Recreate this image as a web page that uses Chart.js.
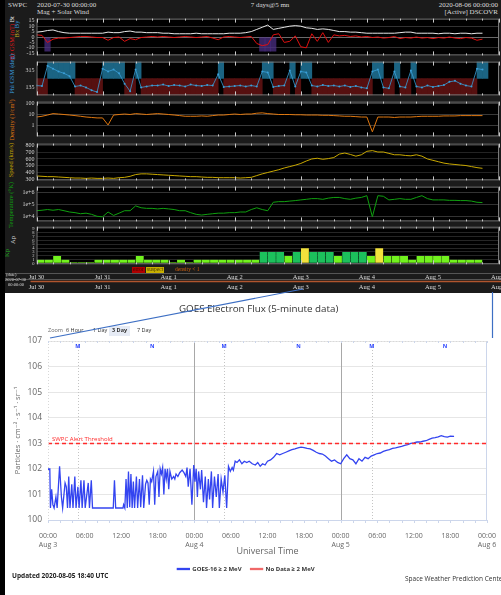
<!DOCTYPE html>
<html>
<head>
<meta charset="utf-8">
<title>SWPC solar wind and GOES electron flux</title>
<script src="https://cdn.jsdelivr.net/npm/chart.js@4.4.1/dist/chart.umd.min.js"></script>
<style>
  html, body { margin: 0; padding: 0; background: #fff; }
  body { position: relative; width: 501px; height: 595px; overflow: hidden; font-family: 'Open Sans', sans-serif; }
  .abs { position: absolute; white-space: nowrap; line-height: 1; }
  #strip { left: 0; top: 0; width: 5px; height: 595px; background: #000; }
  #swpc { position: absolute; left: 5px; top: 0; width: 496px; height: 293px; background: #1b1b1b; color: #dcdcdc;
          font-family: 'Liberation Serif', 'DejaVu Serif', serif; overflow: hidden; }
  #swpc canvas { position: absolute; left: 0; }
  .vt { position: absolute; white-space: nowrap; line-height: 1; font-size: 6.5px; transform: translate(-50%, -50%) rotate(-90deg); }
  #goes { position: absolute; left: 5px; top: 295px; }
  .zb { position: absolute; top: 328px; font-size: 5.5px; color: #333; line-height: 1; white-space: nowrap; }
</style>
</head>
<body>
<div id="strip" class="abs"></div>

<div id="swpc">
  <div class="abs" style="left:3px;top:2px;font-size:7px">SWPC</div>
  <div class="abs" style="left:32px;top:2px;font-size:7px">2020-07-30 00:00:00</div>
  <div class="abs" style="left:32px;top:9px;font-size:7px">Mag + Solar Wind</div>
  <div class="abs" style="left:265px;top:2px;font-size:7px;transform:translateX(-50%)">7 days@5 mn</div>
  <div class="abs" style="right:3px;top:2px;font-size:7px">2020-08-06 00:00:00</div>
  <div class="abs" style="right:3px;top:9px;font-size:7px">[Active] DSCOVR</div>

  <div class="vt" style="left:7px;top:38px"><span style="color:#e01818">Bz GSM (nT)</span> <span style="color:#eee">Bt</span></div>
  <div class="vt" style="left:12px;top:29px"><span style="color:#c8b020">Bx</span> <span style="color:#3aa0e0">By</span></div>
  <div class="vt" style="left:7px;top:74px;color:#3aa0e0">Phi GSM (deg)</div>
  <div class="vt" style="left:7px;top:120px;color:#e07810">Density (1/cm³)</div>
  <div class="vt" style="left:6px;top:160px;color:#c8a800">Speed (km/s)</div>
  <div class="vt" style="left:6px;top:205px;color:#10a010">Temperature (°K)</div>
  <div class="vt" style="left:2px;top:253px;color:#20b020">Kp</div>
  <div class="vt" style="left:8px;top:240px;color:#ddd">Ap</div>

  <canvas id="p1" width="496" height="48" style="top:13px"></canvas>
  <canvas id="p2" width="496" height="45" style="top:56px"></canvas>
  <canvas id="p3" width="496" height="46" style="top:96px"></canvas>
  <canvas id="p4" width="496" height="48" style="top:138px"></canvas>
  <canvas id="p5" width="496" height="46" style="top:181px"></canvas>
  <canvas id="p6" width="496" height="47" style="top:222px"></canvas>
  <canvas id="pAxis" width="496" height="20" style="top:272px"></canvas>

  <div class="abs" style="left:127px;top:267px;font-size:5.5px;background:#b00000;color:#400000;padding:0 1px">error</div>
  <div class="abs" style="left:141px;top:267px;font-size:5.5px;background:#c8b000;color:#4a3a00;padding:0 1px">suspect</div>
  <div class="abs" style="left:170px;top:267px;font-size:5.5px;color:#d06010">density &lt; 1</div>
  <div class="abs" style="left:1px;top:273px;font-size:4.5px">(date)</div>
  <div class="abs" style="left:0px;top:278px;font-size:4.5px">2020-07-30</div>
  <div class="abs" style="left:3px;top:283px;font-size:4.5px">00:00:00</div>
</div>

<canvas id="goes" width="496" height="300"></canvas>

<div class="abs" style="left:179px;top:304px;font-size:9.8px;color:#333">GOES Electron Flux (5-minute data)</div>
<div class="zb" style="left:48px;color:#666">Zoom</div>
<div class="zb" style="left:66px">6 Hour</div>
<div class="zb" style="left:93px">1 Day</div>
<div class="zb" style="left:109px;top:326px;background:#e6ebf5;padding:2px 3px;font-weight:bold">3 Day</div>
<div class="zb" style="left:137px">7 Day</div>
<div class="abs" style="left:12px;top:573px;font-size:6.5px;font-weight:bold;color:#222">Updated 2020-08-05 18:40 UTC</div>
<div class="abs" style="left:405px;top:576px;font-size:6.5px;color:#333">Space Weather Prediction Center</div>

<svg class="abs" width="501" height="595" style="left:0;top:0;pointer-events:none">
  <line x1="303" y1="289" x2="50" y2="338" stroke="#3d6fc4" stroke-width="1.2"/>
  <line x1="492.5" y1="292" x2="492.5" y2="338" stroke="#3d6fc4" stroke-width="1.2"/>
</svg>

<script>
// ---- solar wind panel data, one value every 2 hours from Jul 30 00:00 ----
const STEP = 2;
const bt = [
  4.5, 5, 6, 6.5, 5, 4, 3.5, 3.5, 3.5, 3.5,
  3.5, 3.5, 3.5, 4.5, 4, 4, 5, 5.5, 4.5, 4.5,
  4, 4, 4, 3.5, 3.5, 3, 3, 3, 3, 3.5,
  3, 3, 3, 3, 3, 3.5, 3.5, 3.5, 4, 5,
  7, 9, 11, 7, 8, 9, 10, 10.5, 10, 8.5,
  8, 7, 7.5, 7, 6, 5, 5, 4.5, 4.5, 4,
  3.5, 3.5, 3.5, 3.5, 3.5, 3.5, 4, 4.5, 4.5, 3.5,
  3.5, 3.5, 3.5, 3, 3.5, 3.5, 3, 3.5, 3.5, 3,
  3.5, 3.5
];
const bz = [
  2, 1.5, -5, -2, -1, -1, -0.5, 0, 0.5, 0.5,
  0, -0.5, -0.5, -3, -0.5, 0, -4, -1.5, -2.5, -0.5,
  0, 0.5, 0, 0.5, 0, -0.5, 0, 0.5, 0, -0.5,
  0, 0.5, -1, -2.5, 0, 0.5, 0, -0.5, 0, 0.5,
  -6, -8, -7, 2, 3, -5, -4, 1, -9, -10,
  3, -4, 4, -5, 2, 1, 1.5, 0.5, 1, 0,
  0.5, -0.5, 0, -1, -0.5, 0.5, -1.5, -0.5, -1, 0,
  -1, -0.5, -1.5, -0.5, -1, 0, -1, -1.5, -0.5, -1,
  -3, -2
];
const bzShadeHours = [4, 82, 84, 86];
const phi = [
  150, 145, 360, 330, 300, 280, 250, 140, 150, 130,
  100, 80, 330, 300, 320, 280, 170, 90, 320, 130,
  140, 150, 150, 160, 145, 155, 150, 140, 160, 150,
  145, 155, 150, 270, 135, 140, 145, 150, 140, 150,
  140, 300, 290, 135, 145, 150, 310, 140, 300, 290,
  150, 140, 155, 145, 150, 140, 150, 135, 145, 130,
  120, 300, 320, 130, 120, 300, 140, 130, 310, 140,
  130, 150, 135, 145, 155, 190, 200, 170, 150, 140,
  330, 320
];
// 1 = away sector (blue band), 0 = toward sector (red band)
const sector = [
  0, 0, 1, 1, 1, 1, 1, 0, 0, 0,
  0, 0, 1, 1, 1, 1, 0, 0, 1, 0,
  0, 0, 0, 0, 0, 0, 0, 0, 0, 0,
  0, 0, 0, 1, 0, 0, 0, 0, 0, 0,
  0, 1, 1, 0, 0, 0, 1, 0, 1, 1,
  0, 0, 0, 0, 0, 0, 0, 0, 0, 0,
  0, 1, 1, 0, 0, 1, 0, 0, 1, 0,
  0, 0, 0, 0, 0, 0, 0, 0, 0, 0,
  1, 1
];
const density = [
  6, 7, 9, 12, 11, 10, 9, 8, 7, 6,
  5.5, 5, 5, 1.2, 9, 10, 11, 10, 12, 11,
  10, 11, 12, 11, 10, 9, 8, 7, 7, 7,
  7.5, 7, 8, 9, 9, 10, 11, 10, 11, 11,
  13, 14, 12, 11, 10, 10, 10, 9.5, 9.5, 9,
  9, 9, 8.5, 8.5, 8, 7.5, 7, 7, 6.5, 6,
  6, 0.3, 6, 6, 6, 5.5, 6, 6, 6, 6.5,
  7, 7, 7, 7, 7.5, 7.5, 7.5, 8, 8, 8,
  8, 8
];
const speed = [
  355, 350, 345, 345, 340, 335, 330, 325, 325, 320,
  325, 320, 320, 325, 320, 330, 335, 350, 375, 385,
  385, 380, 375, 370, 365, 360, 355, 350, 345, 345,
  340, 335, 335, 330, 330, 330, 330, 325, 330, 335,
  360, 385, 405, 425, 445, 470, 490, 510, 535, 570,
  600, 610, 595, 605, 620, 670, 685, 665, 640, 660,
  710, 720, 700, 700, 680, 660, 660, 650, 645, 660,
  640, 600, 580, 560, 540, 528, 520, 512, 505, 490,
  475, 465
];
const temperature = [
  3.2e4, 3.5e4, 4e4, 3.5e4, 4e4, 3.2e4, 2.5e4, 2.2e4, 1.8e4, 2e4,
  1.6e4, 1.1e4, 1e4, 2.5e4, 1.3e4, 2e4, 3.2e4, 3.2e4, 8e4, 5.6e4,
  5e4, 5e4, 4.5e4, 5e4, 4.5e4, 4e4, 3.2e4, 3.2e4, 2.2e4, 1.6e4,
  1.4e4, 1.6e4, 1.8e4, 2e4, 2e4, 2.2e4, 2.2e4, 2.5e4, 2.5e4, 4e4,
  5.6e4, 4e4, 3.2e4, 1.6e5, 1.8e5, 1.8e5, 2e5, 2.2e5, 2.5e5, 2.8e5,
  3.2e5, 3.2e5, 2.8e5, 3.5e5, 4e5, 4e5, 3.2e5, 2.8e5, 3.5e5, 4e5,
  5.6e5, 1e4, 5.6e5, 5e5, 2.5e5, 2.8e5, 3.2e5, 2.8e5, 2.8e5, 4e5,
  5.6e5, 3.2e5, 2.5e5, 2.5e5, 2.5e5, 2.3e5, 2.3e5, 2.2e5, 2.2e5, 2e5,
  1.6e5, 1.5e5
];
// Kp, one bar per 3 hours
const kp = [
  1, 1, 2, 1, 0.33, 0.33, 0.33, 1, 1, 1,
  1, 1, 2, 1, 1, 1, 0.33, 1, 0.33, 1,
  1, 1, 1, 1, 1, 1, 1, 3, 3, 3,
  2, 3, 4, 3, 3, 3, 2, 3, 3, 3,
  2, 4, 2, 2, 2, 1, 2, 2, 2, 2,
  1, 1, 1, 1
];
const dayTickHours = [0, 24, 48, 72, 96, 120, 144, 168];
const dayNames = ['Jul 30', 'Jul 31', 'Aug 1', 'Aug 2', 'Aug 3', 'Aug 4', 'Aug 5', 'Aug 6'];

// ---- GOES-16 >= 2 MeV electron flux (log10 particles), hours from Aug 3 00:00 ----
const goesHours = [
  0, 0.1, 0.3, 0.4, 0.6, 0.8, 1.0, 1.3, 1.5, 1.9,
  2.2, 2.4, 2.8, 3.0, 3.2, 3.4, 3.6, 3.9, 4.1, 4.4,
  4.6, 4.9, 5.1, 5.4, 5.6, 5.9, 6.1, 6.6, 6.8, 7.1,
  7.3,
  10.7, 10.9, 11.1, 12.3, 12.4, 12.6, 12.8, 13.0, 13.2, 13.4,
  13.6, 13.8, 14.0, 14.2, 14.5, 14.7, 15.0, 15.2, 15.5, 15.7,
  16.0, 16.2, 16.4, 16.6, 16.8, 17.0, 17.3, 17.5, 17.7, 18.0,
  18.2, 18.4, 18.6, 18.8, 19.0, 19.2, 19.4, 19.6, 19.8, 20.0,
  20.3, 20.6, 20.8, 21.0, 21.3, 21.6, 22.0, 22.3, 22.6, 22.8,
  23.0, 23.3, 23.6, 23.9, 24.1, 24.3, 24.5, 24.7, 25.0, 25.2,
  25.5, 25.8, 26.0, 26.3, 26.5, 26.8, 27.0, 27.3, 27.6, 27.9,
  28.1, 28.4, 28.7, 29.0, 29.3, 29.6, 29.9, 30.2, 30.4, 30.7,
  31.0, 31.4, 31.8, 32.2, 32.6, 33.0,
  33.5, 34.0, 34.4, 34.8, 35.2, 35.6, 36.0, 36.5, 37.0, 37.5,
  38.0, 38.5, 39.0, 39.5, 40.0, 40.5, 41.0, 41.5, 42.0, 42.5,
  43.0, 43.5, 44.0, 44.5, 45.0, 45.5, 46.0, 46.5, 47.0, 47.5,
  48.0, 48.5, 49.0, 49.5, 50.0, 50.5, 51.0, 51.5, 52.0, 52.5,
  53.0, 53.5, 54.0, 54.5, 55.0, 55.5, 56.0, 56.5, 57.0, 57.5,
  58.0, 58.5, 59.0, 59.5, 60.0, 60.5, 61.0, 61.5, 62.0, 62.5,
  63.0, 63.5, 64.0, 64.5, 65.0, 65.5, 66.0, 66.6
];
const goesFlux = [
  1.97, 2.0, 2.0, 0.47, 1.2, 0.6, 0.47, 0.9, 0.47, 2.1,
  0.9, 0.47, 1.45, 1.3, 0.47, 1.7, 0.47, 1.4, 0.47, 1.7,
  0.47, 1.3, 0.47, 1.55, 0.47, 1.55, 0.47, 1.45, 0.47, 1.55,
  0.47,
  0.47, 1.55, 0.47, 0.47, 0.6, 0.47, 1.6, 0.47, 1.9, 0.5,
  1.8, 0.47, 1.5, 0.47, 1.7, 0.47, 1.6, 0.5, 1.75, 0.47,
  1.4, 1.55, 1.45, 0.6, 1.6, 1.5, 1.9, 0.6, 1.7, 1.9,
  0.9, 2.0, 1.8, 2.05, 1.0, 2.0, 1.6, 2.0, 1.2, 1.9,
  1.6, 1.7, 1.6, 1.8, 1.7, 1.85, 1.95, 1.85, 1.7, 2.05,
  1.3, 2.0, 0.6, 2.15, 1.5, 2.0, 0.9, 1.9, 1.2, 1.95,
  0.7, 1.7, 0.47, 1.6, 0.8, 1.9, 0.47, 1.7, 0.9, 1.8,
  0.47, 1.6, 1.1, 1.75, 0.47, 2.1, 1.9, 2.05, 1.95, 2.3,
  2.25, 2.35, 2.2, 2.3, 2.25, 2.3,
  2.2, 2.15, 2.25, 2.1, 2.2, 2.15, 2.3, 2.35, 2.45, 2.6,
  2.55, 2.6, 2.65, 2.7, 2.75, 2.78, 2.82, 2.85, 2.83, 2.8,
  2.78, 2.72, 2.65, 2.6, 2.58, 2.5, 2.4, 2.3, 2.35, 2.25,
  2.2, 2.4, 2.55, 2.4, 2.35, 2.2, 2.4, 2.3, 2.45, 2.4,
  2.5, 2.55, 2.6, 2.62, 2.68, 2.72, 2.75, 2.8, 2.82, 2.85,
  2.88, 2.92, 2.95, 3.0, 3.02, 3.05, 3.05, 3.08, 3.1, 3.15,
  3.2, 3.22, 3.25, 3.3, 3.26, 3.24, 3.28, 3.27
];
const alertThreshold = 3;          // 10^3 particles
const goesTickHours = [0, 6, 12, 18, 24, 30, 36, 42, 48, 54, 60, 66, 72];
const goesDays = ['Aug 3', 'Aug 4', 'Aug 5', 'Aug 6'];
const dayBoundaries = [24, 48];
const localMidnight = [4.9, 28.9, 53.1];   // "M"
const localNoon = [17.1, 41.1, 65.1];      // "N"

const serif = "'Liberation Serif', 'DejaVu Serif', serif";
const sans = "'Open Sans', 'DejaVu Sans', sans-serif";
Chart.defaults.font.family = sans;

// ---- helpers ----
const pts = arr => arr.map((v, i) => ({ x: i * STEP, y: v }));
const kpColor = v => v >= 4 ? '#f2e23c' : (v >= 3 ? '#1cc05c' : '#72f21e');

// black plot area + frame + small time ticks, like the SWPC plot
const panelFrame = {
  id: 'panelFrame',
  beforeDraw(chart) {
    const { ctx, chartArea: a } = chart;
    ctx.save();
    ctx.fillStyle = '#000';
    ctx.fillRect(a.left, a.top, a.width, a.height);
    ctx.restore();
  },
  afterDraw(chart) {
    const { ctx, chartArea: a, scales: { x } } = chart;
    ctx.save();
    ctx.strokeStyle = '#7a7a7a';
    ctx.lineWidth = 1;
    ctx.strokeRect(a.left + 0.5, a.top + 0.5, a.width - 1, a.height - 1);
    ctx.strokeStyle = '#c8c8c8';
    for (let h = 0; h <= 168; h += 6) {
      const px = Math.round(x.getPixelForValue(h)) + 0.5;
      const len = h % 24 === 0 ? 4 : 2;
      ctx.beginPath();
      ctx.moveTo(px, a.top); ctx.lineTo(px, a.top + len);
      ctx.moveTo(px, a.bottom); ctx.lineTo(px, a.bottom - len);
      ctx.stroke();
    }
    ctx.restore();
  }
};

function yAxis(o) {
  return {
    type: o.type || 'linear',
    min: o.min, max: o.max,
    afterFit: s => { s.width = 31.5; },
    afterBuildTicks: s => { s.ticks = o.ticks.map(v => ({ value: v })); },
    ticks: {
      color: '#d4d4d4', font: { family: serif, size: o.size || 6 }, padding: 2, autoSkip: false,
      callback: o.fmt || (v => String(v))
    },
    grid: { color: o.grid || '#303030', drawTicks: false },
    border: { display: false }
  };
}

function panel(id, type, datasets, y) {
  return new Chart(document.getElementById(id), {
    type: type,
    data: { datasets: datasets },
    options: {
      responsive: false, animation: false, devicePixelRatio: 1,
      layout: { autoPadding: false, padding: { left: 0, right: 2, top: 4, bottom: 4 } },
      plugins: { legend: { display: false }, tooltip: { enabled: false } },
      elements: { point: { radius: 0 }, line: { borderWidth: 1, tension: 0 } },
      scales: {
        x: { type: 'linear', min: 0, max: 168, display: false, offset: false },
        y: yAxis(y)
      }
    },
    plugins: [panelFrame]
  });
}

// Bt / Bz
panel('p1', 'bar', [
  { type: 'line', data: pts(bz), borderColor: '#e01010', order: 1 },
  { type: 'line', data: pts(bt), borderColor: '#e8e8e8', order: 2 },
  { type: 'bar', data: bzShadeHours.map(h => ({ x: h, y: [-13, 0] })), backgroundColor: 'rgba(80,50,140,0.7)',
    barPercentage: 1, categoryPercentage: 1, grouped: false, order: 3 }
], { min: -17, max: 17, ticks: [15, 10, 5, 0, -5, -10, -15],
     grid: c => c.tick.value === 0 ? '#6a6a6a' : (Math.abs(c.tick.value) === 10 ? '#333' : 'transparent') });

// Phi with sector bands
panel('p2', 'bar', [
  { type: 'line', data: pts(phi), borderColor: '#3a9fd8', borderWidth: 0.8, pointRadius: 1,
    pointBackgroundColor: '#3a9fd8', pointBorderWidth: 0, order: 1 },
  { type: 'bar', data: sector.map((s, i) => ({ x: i * STEP + 1, y: s ? [225, 405] : null })),
    backgroundColor: '#1b6483', barPercentage: 1, categoryPercentage: 1, grouped: false, order: 2 },
  { type: 'bar', data: sector.map((s, i) => ({ x: i * STEP + 1, y: s ? null : [45, 225] })),
    backgroundColor: '#561010', barPercentage: 1, categoryPercentage: 1, grouped: false, order: 2 }
], { min: 45, max: 405, ticks: [315, 135], grid: 'transparent' });

// Density
panel('p3', 'line', [
  { data: pts(density), borderColor: '#e07810' }
], { type: 'logarithmic', min: 0.118, max: 137, ticks: [100, 10, 1], grid: '#3a3a3a' });

// Speed
panel('p4', 'line', [
  { data: pts(speed), borderColor: '#c8a800' }
], { min: 291, max: 821, ticks: [800, 700, 600, 500, 400, 300], grid: '#242424' });

// Temperature
panel('p5', 'line', [
  { data: pts(temperature), borderColor: '#10a010' }
], { type: 'logarithmic', min: 4170, max: 3.16e6, ticks: [1e6, 1e5, 1e4], grid: '#333',
     fmt: v => '1e+' + Math.round(Math.log10(v)) });

// Kp
panel('p6', 'bar', [
  { data: kp.map((v, i) => ({ x: i * 3 + 1.5, y: v })), backgroundColor: kp.map(kpColor),
    borderColor: 'rgba(0,0,0,0.35)', borderWidth: 0.5, barPercentage: 1, categoryPercentage: 1 }
], { min: -0.25, max: 9.6, ticks: [0, 1, 2, 3, 4, 5, 6, 7, 8, 9], size: 4.5, grid: '#262626' });

// date rows under the panels: labels placed with the time scale
new Chart(document.getElementById('pAxis'), {
  type: 'line',
  data: { datasets: [] },
  options: {
    responsive: false, animation: false, devicePixelRatio: 1,
    layout: { autoPadding: false, padding: { left: 31.5, right: 2, top: 7, bottom: 9 } },
    plugins: { legend: { display: false }, tooltip: { enabled: false } },
    scales: {
      x: { type: 'linear', min: 0, max: 168, offset: false, display: false },
      y: { display: false }
    }
  },
  plugins: [{
    id: 'dateRows',
    afterDraw(chart) {
      const { ctx, chartArea: a, width, scales: { x } } = chart;
      ctx.save();
      ctx.strokeStyle = '#555';
      ctx.lineWidth = 1;
      ctx.beginPath(); ctx.moveTo(0, 1.5); ctx.lineTo(width, 1.5); ctx.stroke();
      ctx.beginPath(); ctx.moveTo(0, a.top + 0.5); ctx.lineTo(width, a.top + 0.5); ctx.stroke();
      ctx.strokeStyle = '#b0552e'; ctx.lineWidth = 1.5;
      ctx.beginPath(); ctx.moveTo(a.left - 6, a.top + 2.5); ctx.lineTo(width, a.top + 2.5); ctx.stroke();
      ctx.fillStyle = '#dcdcdc';
      ctx.font = '6.5px ' + serif;
      ctx.textAlign = 'center';
      ctx.textBaseline = 'middle';
      dayTickHours.forEach((h, i) => {
        const px = x.getPixelForValue(h);
        ctx.fillText(dayNames[i], px, 5);
        ctx.fillText(dayNames[i], px, 15.5);
      });
      ctx.restore();
    }
  }]
});

// ---- GOES electron flux chart ----
const goesDecor = {
  id: 'goesDecor',
  beforeDatasetsDraw(chart) {
    const { ctx, chartArea: a, scales: { x } } = chart;
    ctx.save();
    ctx.lineWidth = 1;
    ctx.strokeStyle = '#a8a8a8';
    dayBoundaries.forEach(h => {
      const px = Math.round(x.getPixelForValue(h)) + 0.5;
      ctx.beginPath(); ctx.moveTo(px, a.top); ctx.lineTo(px, a.bottom); ctx.stroke();
    });
    ctx.strokeStyle = '#c4c4c4';
    ctx.setLineDash([1, 2]);
    localMidnight.forEach(h => {
      const px = Math.round(x.getPixelForValue(h)) + 0.5;
      ctx.beginPath(); ctx.moveTo(px, a.top); ctx.lineTo(px, a.bottom); ctx.stroke();
    });
    ctx.setLineDash([]);
    ctx.fillStyle = '#2a44ff';
    ctx.font = 'bold 5.5px ' + sans;
    ctx.textAlign = 'center';
    ctx.textBaseline = 'middle';
    localMidnight.forEach(h => ctx.fillText('M', x.getPixelForValue(h), a.top + 5));
    localNoon.forEach(h => ctx.fillText('N', x.getPixelForValue(h), a.top + 5));
    ctx.restore();
  },
  afterDatasetsDraw(chart) {
    const { ctx, chartArea: a, scales: { y } } = chart;
    const ty = Math.round(y.getPixelForValue(alertThreshold)) + 0.5;
    ctx.save();
    ctx.strokeStyle = '#ff2a2a';
    ctx.lineWidth = 1.5;
    ctx.setLineDash([4, 3]);
    ctx.beginPath(); ctx.moveTo(a.left, ty); ctx.lineTo(a.right, ty); ctx.stroke();
    ctx.setLineDash([]);
    ctx.fillStyle = '#ff2a2a';
    ctx.font = '6px ' + sans;
    ctx.textBaseline = 'bottom';
    ctx.fillText('SWPC Alert Threshold', a.left + 4, ty - 1);
    ctx.restore();
  },
  afterDraw(chart) {
    const { ctx, chartArea: a, scales: { x } } = chart;
    ctx.save();
    ctx.strokeStyle = '#ccd6eb';
    ctx.lineWidth = 1;
    ctx.beginPath();
    ctx.moveTo(a.left, a.bottom + 0.5); ctx.lineTo(a.right, a.bottom + 0.5);
    ctx.moveTo(a.right - 0.5, a.top); ctx.lineTo(a.right - 0.5, a.bottom);
    ctx.stroke();
    ctx.strokeStyle = '#d8d8d8';
    ctx.setLineDash([1, 2]);
    ctx.beginPath();
    ctx.moveTo(a.left + 0.5, a.top); ctx.lineTo(a.left + 0.5, a.bottom);
    ctx.moveTo(a.left, a.top + 0.5); ctx.lineTo(a.right, a.top + 0.5);
    ctx.stroke();
    ctx.setLineDash([]);
    ctx.strokeStyle = '#ccd6eb';
    for (let h = 0; h <= 72; h += 2) {
      const px = Math.round(x.getPixelForValue(h)) + 0.5;
      ctx.beginPath();
      ctx.moveTo(px, a.bottom); ctx.lineTo(px, a.bottom + 3);
      ctx.moveTo(px, a.top); ctx.lineTo(px, a.top + 2);
      ctx.stroke();
    }
    ctx.restore();
  }
};

new Chart(document.getElementById('goes'), {
  type: 'line',
  data: {
    datasets: [
      { label: 'GOES-16 ≥ 2 MeV', data: goesHours.map((h, i) => ({ x: h, y: goesFlux[i] })),
        borderColor: '#3344f0', backgroundColor: '#3344f0', borderWidth: 1.3, pointRadius: 0, tension: 0 },
      { label: 'No Data ≥ 2 MeV', data: [], borderColor: '#f06868', backgroundColor: '#f06868',
        borderWidth: 1.3, pointRadius: 0 }
    ]
  },
  options: {
    responsive: false, animation: false, devicePixelRatio: 1,
    layout: { autoPadding: false, padding: { left: 0, right: 14, top: 46, bottom: 13 } },
    plugins: {
      tooltip: { enabled: false },
      legend: {
        position: 'bottom',
        labels: { boxWidth: 12, boxHeight: 1, padding: 9, color: '#333',
                  font: { family: sans, size: 6, weight: 'bold' } }
      }
    },
    scales: {
      x: {
        type: 'linear', min: 0, max: 72, offset: false,
        afterFit: s => { s.height = 37; },
        afterBuildTicks: s => { s.ticks = goesTickHours.map(v => ({ value: v })); },
        ticks: {
          color: '#666', font: { size: 7 }, padding: 4, maxRotation: 0, autoSkip: false,
          callback: v => v % 24 === 0 ? ['00:00', goesDays[v / 24]] : String(v % 24).padStart(2, '0') + ':00'
        },
        grid: { display: false }, border: { display: false },
        title: { display: true, text: 'Universal Time', color: '#666', font: { size: 9 }, padding: { top: 0, bottom: 0 } }
      },
      y: {
        type: 'linear', min: 0, max: 7,
        afterFit: s => { s.width = 43; },
        ticks: { stepSize: 1, color: '#666', font: { size: 8.5 }, padding: 6, callback: v => '10' + v },
        grid: { color: '#e6e6e6', drawTicks: false }, border: { display: false },
        title: { display: true, text: 'Particles · cm⁻² · s⁻¹ · sr⁻¹', color: '#666', font: { size: 7.5 },
                 padding: { top: 8, bottom: 0 } }
      }
    }
  },
  plugins: [goesDecor]
});
</script>
</body>
</html>
